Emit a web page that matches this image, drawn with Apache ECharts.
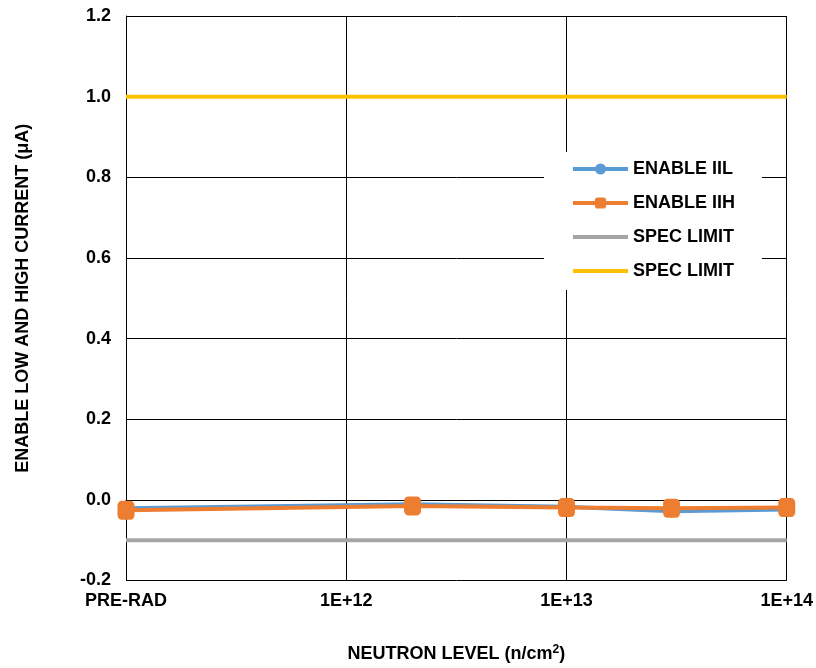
<!DOCTYPE html>
<html>
<head>
<meta charset="utf-8">
<script src="https://cdn.jsdelivr.net/npm/echarts@6/dist/echarts.min.js"></script>
<style>
html,body{margin:0;padding:0;background:#fff;}
#chart{width:816px;height:668px;}
</style>
</head>
<body>
<div id="chart"></div>
<script>
// neutron levels (PRE-RAD plotted at 1E+11)
var levels = [1e11, 2e12, 1e13, 3e13, 1e14];
var enableIIL = [-0.021, -0.011, -0.017, -0.028, -0.024];
var enableIIH = [-0.026, -0.015, -0.019, -0.021, -0.019];
var specLow = -0.1;
var specHigh = 1.0;
var xRange = [1e11, 1e14];
var yTicks = [-0.2, 0.0, 0.2, 0.4, 0.6, 0.8, 1.0, 1.2];
var preRadLabel = 'PRE-RAD';

var FONT = 'Liberation Sans, Arial, sans-serif';
function pairs(xs, ys) { return xs.map(function (x, i) { return [x, ys[i]]; }); }

var chart = echarts.init(document.getElementById('chart'));
chart.setOption({
  backgroundColor: '#ffffff',
  animation: false,
  grid: { left: 126, right: 27, top: 16, bottom: 87 },
  xAxis: {
    type: 'log',
    logBase: 10,
    min: xRange[0],
    max: xRange[1],
    name: 'NEUTRON LEVEL (n/cm{sup|2})',
    nameLocation: 'middle',
    nameGap: 63,
    nameTextStyle: {
      fontFamily: FONT, fontWeight: 'bold', fontSize: 18, color: '#000',
      rich: { sup: { fontFamily: FONT, fontWeight: 'bold', fontSize: 12, color: '#000', verticalAlign: 'bottom', padding: [0, 0, 9, 0] } }
    },
    axisLine: { show: true, lineStyle: { color: '#000', width: 1 } },
    axisTick: { show: false },
    splitLine: { show: true, lineStyle: { color: '#000', width: 1 } },
    minorTick: { show: false },
    axisLabel: {
      fontFamily: FONT, fontWeight: 'bold', fontSize: 18, color: '#000', margin: 12,
      formatter: function (v) {
        var e = Math.round(Math.log10(v));
        if (e === Math.round(Math.log10(xRange[0]))) return preRadLabel;
        return '1E+' + e;
      }
    }
  },
  yAxis: {
    type: 'value',
    min: yTicks[0],
    max: yTicks[yTicks.length - 1],
    interval: 0.2,
    name: 'ENABLE LOW AND HIGH CURRENT (μA)',
    nameLocation: 'middle',
    nameGap: 94,
    nameTextStyle: { fontFamily: FONT, fontWeight: 'bold', fontSize: 18, color: '#000' },
    axisLine: { show: true, lineStyle: { color: '#000', width: 1 } },
    axisTick: { show: false },
    splitLine: { show: true, lineStyle: { color: '#000', width: 1 } },
    axisLabel: {
      fontFamily: FONT, fontWeight: 'bold', fontSize: 18, color: '#000', margin: 15,
      formatter: function (v) { return v.toFixed(1); }
    }
  },
  legend: {
    orient: 'vertical',
    left: 544,
    top: 152,
    backgroundColor: '#ffffff',
    padding: [8, 23, 10, 27],
    itemWidth: 55,
    itemHeight: 14,
    itemGap: 16,
    itemTextGap: 4,
    lineStyle: { width: 4 },
    textStyle: { fontFamily: FONT, fontWeight: 'bold', fontSize: 18, color: '#000' },
    data: [
      { name: 'ENABLE IIL' },
      { name: 'ENABLE IIH' },
      { name: 'SPEC LIMIT', itemStyle: { opacity: 0 } },
      { name: 'SPEC LIMIT ', itemStyle: { opacity: 0 } }
    ]
  },
  series: [
    {
      name: 'ENABLE IIL', type: 'line',
      data: pairs(levels, enableIIL),
      symbol: 'circle', symbolSize: 12,
      lineStyle: { color: '#5B9BD5', width: 4 },
      itemStyle: { color: '#5B9BD5' },
      z: 3
    },
    {
      name: 'ENABLE IIH', type: 'line',
      data: pairs(levels, enableIIH),
      symbol: 'roundRect', symbolSize: [17, 19],
      lineStyle: { color: '#ED7D31', width: 4 },
      itemStyle: { color: '#ED7D31' },
      z: 4
    },
    {
      name: 'SPEC LIMIT', type: 'line',
      data: pairs(xRange, [specLow, specLow]),
      symbol: 'none', showSymbol: false,
      lineStyle: { color: '#A5A5A5', width: 4 },
      itemStyle: { color: '#A5A5A5' },
      z: 2
    },
    {
      name: 'SPEC LIMIT ', type: 'line',
      data: pairs(xRange, [specHigh, specHigh]),
      symbol: 'none', showSymbol: false,
      lineStyle: { color: '#FFC000', width: 4 },
      itemStyle: { color: '#FFC000' },
      z: 2
    }
  ]
});
</script>
</body>
</html>
